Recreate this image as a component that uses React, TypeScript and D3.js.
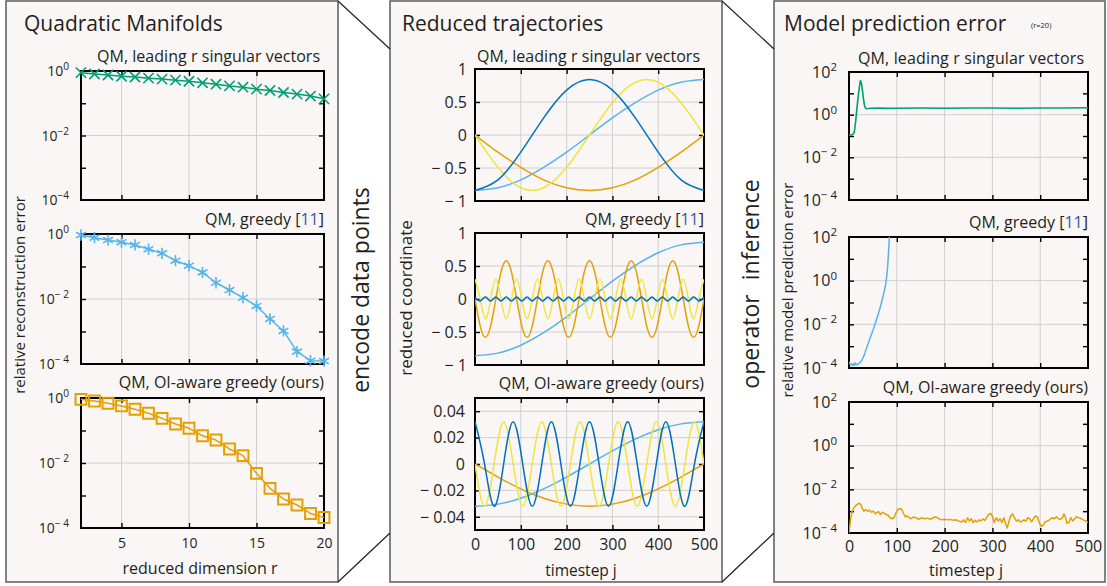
import { useEffect, useRef } from 'react'
import * as d3 from 'd3'

const WIDTH = 1107
const HEIGHT = 586
const FONT = '"Open Sans", "Noto Sans", sans-serif'
const INK = '#231f20'
const GRID = '#d0d0d0'
const PANEL_BG = '#f9f6f5'
const PANEL_STROKE = '#5b5b5b'

const GREEN = '#009E73'
const SKY = '#56B4E9'
const ORANGE = '#E69F00'
const YELLOW = '#F0E442'
const BLUE = '#0072BD'
const CITE = '#3953a4'

// reconstruction error vs reduced dimension r
const reducedDims = [2, 3, 4, 5, 6, 7, 8, 9, 10, 11, 12, 13, 14, 15, 16, 17, 18, 19, 20]
const reconLeading = [0.89, 0.81, 0.75, 0.69, 0.65, 0.6, 0.56, 0.52, 0.48, 0.43, 0.39, 0.345, 0.315, 0.274, 0.248, 0.215, 0.192, 0.167, 0.137]
const reconGreedy = [0.93, 0.77, 0.65, 0.56, 0.46, 0.34, 0.255, 0.151, 0.106, 0.066, 0.0316, 0.0189, 0.011, 0.0061, 0.00243, 0.00104, 0.00024, 0.000126, 0.000123]
const reconOIAware = [0.91, 0.81, 0.69, 0.57, 0.45, 0.34, 0.237, 0.158, 0.117, 0.069, 0.051, 0.027, 0.0168, 0.0048, 0.00166, 0.00078, 0.00051, 0.00028, 0.00021]

// reduced trajectories
const tCoarse = [0, 50, 100, 150, 200, 250, 300, 350, 400, 450, 500]
const leadBlue = [-0.84, -0.68, -0.26, 0.26, 0.68, 0.84, 0.68, 0.26, -0.26, -0.68, -0.84]
const leadSky = [-0.84, -0.8, -0.68, -0.49, -0.26, 0, 0.26, 0.49, 0.68, 0.8, 0.84]
const leadYellow = [0, -0.49, -0.8, -0.8, -0.49, 0, 0.49, 0.8, 0.8, 0.49, 0]
const leadOrange = [0, -0.26, -0.49, -0.68, -0.8, -0.84, -0.8, -0.68, -0.49, -0.26, 0]

const tGreedy = [0, 11.36, 22.73, 34.09, 45.45, 56.82, 68.18, 79.55, 90.91, 102.27, 113.64, 125, 136.36, 147.73, 159.09,
  170.45, 181.82, 193.18, 204.55, 215.91, 227.27, 238.64, 250, 261.36, 272.73, 284.09, 295.45, 306.82, 318.18, 329.55,
  340.91, 352.27, 363.64, 375, 386.36, 397.73, 409.09, 420.45, 431.82, 443.18, 454.55, 465.91, 477.27, 488.64, 500]
const greedySky = [-0.86, -0.82, -0.7, -0.51, -0.27, 0, 0.27, 0.51, 0.7, 0.82, 0.86]
const greedyOrange = [0, -0.41, -0.58, -0.41, 0, 0.41, 0.58, 0.41, 0, -0.41, -0.58, -0.41, 0, 0.41, 0.58,
  0.41, 0, -0.41, -0.58, -0.41, 0, 0.41, 0.58, 0.41, 0, -0.41, -0.58, -0.41, 0, 0.41,
  0.58, 0.41, 0, -0.41, -0.58, -0.41, 0, 0.41, 0.58, 0.41, 0, -0.41, -0.58, -0.41, 0]
const greedyYellow = [0.3, 0, -0.3, 0, 0.3, 0, -0.3, 0, 0.3, 0, -0.3, 0, 0.3, 0, -0.3,
  0, 0.3, 0, -0.3, 0, 0.3, 0, -0.3, 0, 0.3, 0, -0.3, 0, 0.3, 0,
  -0.3, 0, 0.3, 0, -0.3, 0, 0.3, 0, -0.3, 0, 0.3, 0, -0.3, 0, 0.3]
const greedyBlue = [0.03, -0.03, 0.03, -0.03, 0.03, -0.03, 0.03, -0.03, 0.03, -0.03, 0.03, -0.03, 0.03, -0.03, 0.03,
  -0.03, 0.03, -0.03, 0.03, -0.03, 0.03, -0.03, 0.03, -0.03, 0.03, -0.03, 0.03, -0.03, 0.03, -0.03,
  0.03, -0.03, 0.03, -0.03, 0.03, -0.03, 0.03, -0.03, 0.03, -0.03, 0.03, -0.03, 0.03, -0.03, 0.03]

const tOI = [0, 20.83, 41.67, 62.5, 83.33, 104.17, 125, 145.83, 166.67, 187.5, 208.33, 229.17, 250,
  270.83, 291.67, 312.5, 333.33, 354.17, 375, 395.83, 416.67, 437.5, 458.33, 479.17, 500]
const oiSky = [-0.032, -0.0304, -0.0259, -0.0188, -0.0099, 0, 0.0099, 0.0188, 0.0259, 0.0304, 0.032]
const oiOrange = [0, -0.0099, -0.0188, -0.0259, -0.0304, -0.032, -0.0304, -0.0259, -0.0188, -0.0099, 0]
const oiYellow = [0, -0.032, 0, 0.032, 0, -0.032, 0, 0.032, 0, -0.032, 0, 0.032, 0,
  -0.032, 0, 0.032, 0, -0.032, 0, 0.032, 0, -0.032, 0, 0.032, 0]
const oiBlue = [0.032, 0, -0.032, 0, 0.032, 0, -0.032, 0, 0.032, 0, -0.032, 0, 0.032,
  0, -0.032, 0, 0.032, 0, -0.032, 0, 0.032, 0, -0.032, 0, 0.032]

// model prediction error (r = 20)
const predLeadT = [0, 4, 8, 11, 14, 17, 20, 22, 24, 26, 28, 30, 32, 34, 36, 45, 60, 80, 100, 150, 200, 250, 300, 350, 400, 450, 500]
const predLead = [0.11, 0.11, 0.12, 0.15, 0.5, 2.5, 10, 22, 40, 30, 14, 6, 3, 2.1, 1.9, 2.0, 2.02, 1.98, 2.0, 2.05, 2.0, 2.05, 2.05, 2.0, 2.05, 2.05, 2.1]

const predGreedyT = [0, 3, 5, 7, 9, 11, 13, 15, 17, 19, 22, 25, 28, 32, 36, 40, 44, 48, 52, 56, 60, 64, 68, 72, 76, 79, 81, 83, 85]
const predGreedy = [1.9e-4, 1.4e-4, 1.5e-4, 1.3e-4, 1.6e-4, 1.3e-4, 1.7e-4, 1.4e-4, 1.5e-4, 1.5e-4, 1.7e-4, 2.0e-4, 2.5e-4, 4e-4,
  7.5e-4, 1.3e-3, 2.3e-3, 4e-3, 7e-3, 1.3e-2, 2.4e-2, 4.8e-2, 0.1, 0.22, 0.55, 1.6, 5, 25, 150]

const predOIT = [0, 3, 6, 10, 14, 18, 22, 25, 28, 31,
  35, 39, 43, 47, 51, 55, 58, 62, 66, 70,
  74, 78, 82, 86, 90, 94, 98, 102, 106, 110,
  114, 118, 122, 126, 130, 135, 140, 146, 152, 158,
  164, 170, 176, 182, 188, 194, 200, 206, 212, 218,
  224, 230, 236, 240, 244, 248, 252, 256, 260, 264,
  268, 272, 276, 280, 284, 288, 292, 296, 300, 304,
  308, 312, 316, 320, 324, 328, 331, 334, 338, 342,
  346, 350, 354, 358, 362, 366, 370, 374, 378, 382,
  386, 390, 394, 398, 402, 406, 410, 414, 418, 422,
  426, 430, 434, 438, 442, 446, 450, 453, 456, 460,
  464, 468, 472, 476, 480, 484, 488, 492, 496, 500]
const predOI = [1.0e-4, 4e-4, 9e-4, 1.4e-3, 1.8e-3, 2.1e-3, 2.3e-3, 2.0e-3, 1.3e-3, 1.0e-3,
  1.2e-3, 1.0e-3, 1.1e-3, 9e-4, 1.0e-3, 7.5e-4, 8.5e-4, 9.5e-4, 7e-4, 9e-4,
  8e-4, 7e-4, 6.5e-4, 5e-4, 4.5e-4, 5e-4, 8e-4, 1.2e-3, 1.3e-3, 1.25e-3,
  8e-4, 5.5e-4, 6e-4, 5e-4, 4.5e-4, 5.5e-4, 5e-4, 4.2e-4, 5e-4, 4.5e-4,
  4.8e-4, 4.2e-4, 5e-4, 5.5e-4, 4.5e-4, 4e-4, 4.3e-4, 4e-4, 4.2e-4, 3.8e-4,
  4e-4, 3.5e-4, 3.2e-4, 4e-4, 3e-4, 5e-4, 3.5e-4, 4.5e-4, 3e-4, 3.8e-4,
  3.2e-4, 4e-4, 3.5e-4, 4.5e-4, 3.8e-4, 5e-4, 7e-4, 8e-4, 6e-4, 3e-4,
  5e-4, 3.5e-4, 4.5e-4, 3e-4, 5e-4, 2.5e-4, 1.7e-4, 3e-4, 6e-4, 7.5e-4,
  5e-4, 3.5e-4, 4e-4, 3.2e-4, 3.5e-4, 4e-4, 3.5e-4, 5e-4, 4.5e-4, 3.2e-4,
  4.5e-4, 6e-4, 5.5e-4, 3e-4, 2e-4, 2.3e-4, 3.2e-4, 3.5e-4, 3.8e-4, 4.5e-4,
  5e-4, 4.5e-4, 5.5e-4, 4.5e-4, 4.2e-4, 4.8e-4, 7.5e-4, 5e-4, 2.8e-4, 3e-4,
  5e-4, 3.5e-4, 4.5e-4, 5.5e-4, 5e-4, 4.8e-4, 4.2e-4, 3.8e-4, 3.5e-4, 3e-4]

const timeTicks = [100, 200, 300, 400]
const timeLabels = [0, 100, 200, 300, 400, 500]
const dimTicks = [5, 10, 15]
const dimLabels = [5, 10, 15, 20]
const reconLabels: [number, string, string][] = [[1, '10', '0'], [1e-2, '10', '−2'], [1e-4, '10', '−4']]
const reconLabelsSp: [number, string, string][] = [[1, '10', '0'], [1e-2, '10', '− 2'], [1e-4, '10', '− 4']]
const predLabels: [number, string, string][] = [[100, '10', '2'], [1, '10', '0'], [1e-2, '10', '− 2'], [1e-4, '10', '− 4']]
const unitLabels: [number, string][] = [[1, '1'], [0.5, '0.5'], [0, '0'], [-0.5, '− 0.5'], [-1, '− 1']]
const smallLabels: [number, string][] = [[0.04, '0.04'], [0.02, '0.02'], [0, '0'], [-0.02, '− 0.02'], [-0.04, '− 0.04']]

type Series = {
  xs: number[]; ys: number[]; color: string; width?: number
  curve?: d3.CurveFactory; marker?: d3.SymbolType; markerSize?: number; markerWidth?: number
}
type Plot = {
  box: [number, number, number, number]
  xDomain: [number, number]; yDomain: [number, number]; log?: boolean
  xGrid: number[]; yGrid: number[]; yTicks: number[]
  yLabels: [number, string, string?][]; yLabelX: number; fs: number
  xLabels?: number[]; xPad?: number
  title: string; cite?: boolean; titleY: number; titleLen?: number; clip?: boolean
  series: Series[]
}

function drawPlot(root: any, p: Plot, id: string) {
  const [x0, y0, x1, y1] = p.box
  const x = d3.scaleLinear().domain(p.xDomain).range([x0, x1])
  const y: any = p.log
    ? d3.scaleLog().domain(p.yDomain).range([y1, y0])
    : d3.scaleLinear().domain(p.yDomain).range([y1, y0])
  const g = root.append('g')

  g.append('clipPath').attr('id', id).append('rect')
    .attr('x', x0).attr('y', y0).attr('width', x1 - x0).attr('height', y1 - y0)

  g.append('g').selectAll('line').data(p.xGrid).join('line')
    .attr('x1', (d: number) => x(d)).attr('x2', (d: number) => x(d)).attr('y1', y0).attr('y2', y1)
    .attr('stroke', GRID).attr('stroke-width', 1)
  g.append('g').selectAll('line').data(p.yGrid).join('line')
    .attr('x1', x0).attr('x2', x1).attr('y1', (d: number) => y(d)).attr('y2', (d: number) => y(d))
    .attr('stroke', GRID).attr('stroke-width', 1)

  const ticksOnly = (sel: any) => {
    sel.select('.domain').remove()
    sel.selectAll('.tick line').attr('stroke', '#000').attr('stroke-width', 1.4)
  }
  const blank = () => ''
  g.append('g').attr('transform', `translate(0,${y1})`)
    .call(d3.axisBottom(x).tickValues(p.xGrid).tickSize(-5).tickFormat(blank)).call(ticksOnly)
  g.append('g').attr('transform', `translate(0,${y0})`)
    .call(d3.axisTop(x).tickValues(p.xGrid).tickSize(-5).tickFormat(blank)).call(ticksOnly)
  g.append('g').attr('transform', `translate(${x0},0)`)
    .call(d3.axisLeft(y).tickValues(p.yTicks).tickSize(-5).tickFormat(blank)).call(ticksOnly)
  g.append('g').attr('transform', `translate(${x1},0)`)
    .call(d3.axisRight(y).tickValues(p.yTicks).tickSize(-5).tickFormat(blank)).call(ticksOnly)

  g.append('rect').attr('x', x0).attr('y', y0).attr('width', x1 - x0).attr('height', y1 - y0)
    .attr('fill', 'none').attr('stroke', '#000').attr('stroke-width', 2)

  const lines = g.append('g').attr('clip-path', p.clip ? `url(#${id})` : null)
  p.series.forEach((s) => {
    const pts: [number, number][] = s.xs.map((v, i) => [v, s.ys[i]])
    const line = d3.line<[number, number]>()
      .x((d) => x(d[0])).y((d) => y(d[1]))
      .curve(s.curve ?? d3.curveLinear)
    lines.append('path').attr('d', line(pts)).attr('fill', 'none')
      .attr('stroke', s.color).attr('stroke-width', s.width ?? 1.5).attr('stroke-linejoin', 'round')
    if (s.marker) {
      const sym = d3.symbol().type(s.marker).size(s.markerSize ?? 64)
      lines.append('g').selectAll('path').data(pts).join('path')
        .attr('transform', (d: [number, number]) => `translate(${x(d[0])},${y(d[1])})`)
        .attr('d', sym).attr('fill', 'none').attr('stroke', s.color)
        .attr('stroke-width', s.markerWidth ?? 1.5)
    }
  })

  // y tick labels
  p.yLabels.forEach(([v, base, exp]) => {
    const t = g.append('text').attr('x', p.yLabelX).attr('y', y(v) + p.fs * 0.36)
      .attr('text-anchor', 'end').attr('font-family', FONT).attr('font-size', p.fs).attr('fill', INK)
    t.append('tspan').text(base)
    if (exp) t.append('tspan').attr('font-size', p.fs * 0.72).attr('dy', -p.fs * 0.42).text(exp)
  })

  if (p.xLabels) {
    const ax = g.append('g').attr('transform', `translate(0,${y1})`)
      .call(d3.axisBottom(x).tickValues(p.xLabels).tickSize(0).tickPadding(p.xPad ?? 10).tickFormat(d3.format('d')))
    ax.select('.domain').remove()
    ax.attr('font-family', FONT).attr('font-size', p.fs)
    ax.selectAll('text').attr('fill', INK)
  }

  const t = g.append('text').attr('x', p.titleLen ? x1 - 4 : x1).attr('y', p.titleY).attr('text-anchor', 'end')
    .attr('font-family', FONT).attr('font-size', 16).attr('fill', INK)
  if (p.cite) {
    t.append('tspan').text(p.title + ' [')
    t.append('tspan').attr('fill', CITE).text('11')
    t.append('tspan').text(']')
  } else {
    t.text(p.title)
    if (p.titleLen) t.attr('textLength', p.titleLen).attr('lengthAdjust', 'spacing')
  }
}

export default function App() {
  const ref = useRef<SVGSVGElement>(null)

  useEffect(() => {
    const svg = d3.select(ref.current)
    svg.selectAll('*').remove()

    // panels
    const panels = [[6, 332], [390, 332], [774, 331]]
    svg.append('g').selectAll('rect').data(panels).join('rect')
      .attr('x', (d) => d[0]).attr('y', 1).attr('width', (d) => d[1]).attr('height', 581)
      .attr('fill', PANEL_BG).attr('stroke', PANEL_STROKE).attr('stroke-width', 1.5)

    // zoom connectors
    const connectors = [[338, 1, 390, 49], [338, 582, 390, 533], [722, 1, 774, 49], [722, 582, 774, 533]]
    svg.append('g').selectAll('line').data(connectors).join('line')
      .attr('x1', (d) => d[0]).attr('y1', (d) => d[1]).attr('x2', (d) => d[2]).attr('y2', (d) => d[3])
      .attr('stroke', INK).attr('stroke-width', 1.2)

    const text = (x: number, y: number, s: string, size: number, rotate = false, anchor = 'start') =>
      svg.append('text').attr('x', x).attr('y', y).attr('text-anchor', anchor)
        .attr('transform', rotate ? `rotate(-90,${x},${y})` : null)
        .attr('font-family', FONT).attr('font-size', size).attr('fill', INK).text(s)

    text(24, 31, 'Quadratic Manifolds', 21)
    text(402, 31, 'Reduced trajectories', 21)
    text(784, 31, 'Model prediction error', 21)
    text(1031, 28, '(r=20)', 7.5)

    text(369, 290, 'encode data points', 23, true, 'middle')
    text(759, 284, 'operator inference', 23, true, 'middle').attr('word-spacing', 8)
    text(25, 295, 'relative reconstruction error', 15, true, 'middle')
    text(412, 298, 'reduced coordinate', 17, true, 'middle')
    text(793, 290, 'relative model prediction error', 15, true, 'middle')
    text(200, 574, 'reduced dimension r', 16, false, 'middle')
    text(581, 576, 'timestep j', 15.5, false, 'middle')
    text(966, 576, 'timestep j', 16, false, 'middle')

    const logLeft = {
      xDomain: [2, 20] as [number, number], yDomain: [1e-4, 1] as [number, number], log: true,
      xGrid: dimTicks, yGrid: [1e-2], yTicks: [1e-1, 1e-2, 1e-3], yLabelX: 69, fs: 14,
    }
    drawPlot(svg, {
      ...logLeft, box: [81, 71, 324, 200], yLabels: reconLabels, title: 'QM, leading r singular vectors', titleY: 62,
      titleLen: 223,
      series: [{ xs: reducedDims, ys: reconLeading, color: GREEN, marker: d3.symbolTimes, markerSize: 70, markerWidth: 1.6 }],
    }, 'c1')
    drawPlot(svg, {
      ...logLeft, box: [81, 234, 324, 364], yLabels: reconLabelsSp, title: 'QM, greedy', cite: true, titleY: 225,
      series: [{ xs: reducedDims, ys: reconGreedy, color: SKY, marker: d3.symbolAsterisk, markerSize: 90, markerWidth: 1.6 }],
    }, 'c2')
    drawPlot(svg, {
      ...logLeft, box: [81, 398, 324, 528], yLabels: reconLabelsSp, title: 'QM, OI-aware greedy (ours)', titleY: 388,
      xLabels: dimLabels, xPad: 10,
      series: [{ xs: reducedDims, ys: reconOIAware, color: ORANGE, marker: d3.symbolSquare2, markerSize: 150, markerWidth: 2 }],
    }, 'c3')

    const traj = {
      xDomain: [0, 500] as [number, number], xGrid: timeTicks, yLabelX: 467, fs: 16, clip: true,
    }
    const nat = d3.curveNatural
    drawPlot(svg, {
      ...traj, box: [475, 69, 704, 201], yDomain: [-1, 1], yGrid: [0.5, 0, -0.5], yTicks: [0.5, 0, -0.5],
      yLabels: unitLabels, title: 'QM, leading r singular vectors', titleY: 62, titleLen: 223,
      series: [
        { xs: tCoarse, ys: leadSky, color: SKY, curve: nat },
        { xs: tCoarse, ys: leadOrange, color: ORANGE, curve: nat },
        { xs: tCoarse, ys: leadYellow, color: YELLOW, curve: nat },
        { xs: tCoarse, ys: leadBlue, color: BLUE, curve: nat },
      ],
    }, 'c4')
    drawPlot(svg, {
      ...traj, box: [475, 233, 704, 365], yDomain: [-1, 1], yGrid: [0.5, 0, -0.5], yTicks: [0.5, 0, -0.5],
      yLabels: unitLabels, title: 'QM, greedy', cite: true, titleY: 225,
      series: [
        { xs: tCoarse, ys: greedySky, color: SKY, curve: nat },
        { xs: tGreedy, ys: greedyOrange, color: ORANGE, curve: nat },
        { xs: tGreedy, ys: greedyYellow, color: YELLOW, curve: nat },
        { xs: tGreedy, ys: greedyBlue, color: BLUE, curve: nat },
      ],
    }, 'c5')
    drawPlot(svg, {
      ...traj, box: [475, 398, 704, 530], yDomain: [-0.05, 0.05], yGrid: [0.04, 0.02, 0, -0.02, -0.04],
      yTicks: [0.04, 0.02, 0, -0.02, -0.04], yLabels: smallLabels, yLabelX: 465,
      title: 'QM, OI-aware greedy (ours)', titleY: 389, xLabels: timeLabels, xPad: 9,
      series: [
        { xs: tCoarse, ys: oiSky, color: SKY, curve: nat },
        { xs: tCoarse, ys: oiOrange, color: ORANGE, curve: nat },
        { xs: tOI, ys: oiYellow, color: YELLOW, curve: nat },
        { xs: tOI, ys: oiBlue, color: BLUE, curve: nat },
      ],
    }, 'c6')

    const pred = {
      xDomain: [0, 500] as [number, number], yDomain: [1e-4, 100] as [number, number], log: true,
      xGrid: timeTicks, yGrid: [1, 1e-2], yTicks: [10, 1, 0.1, 0.01, 1e-3], yLabels: predLabels,
      yLabelX: 837, fs: 16, clip: true,
    }
    drawPlot(svg, {
      ...pred, box: [849, 72, 1088, 200], title: 'QM, leading r singular vectors', titleY: 64, titleLen: 226,
      series: [{ xs: predLeadT, ys: predLead, color: GREEN, width: 1.6 }],
    }, 'c7')
    drawPlot(svg, {
      ...pred, box: [849, 237, 1088, 368], title: 'QM, greedy', cite: true, titleY: 228,
      series: [{ xs: predGreedyT, ys: predGreedy, color: SKY, width: 1.5 }],
    }, 'c8')
    drawPlot(svg, {
      ...pred, box: [849, 402, 1088, 533], title: 'QM, OI-aware greedy (ours)', titleY: 393,
      xLabels: timeLabels, xPad: 8,
      series: [{ xs: predOIT, ys: predOI, color: ORANGE, width: 1.5 }],
    }, 'c9')
  }, [])

  return (
    <div style={{ position: 'absolute', left: 0, top: 0 }}>
      <svg ref={ref} width={WIDTH} height={HEIGHT} style={{ display: 'block', background: '#fff' }} />
    </div>
  )
}
